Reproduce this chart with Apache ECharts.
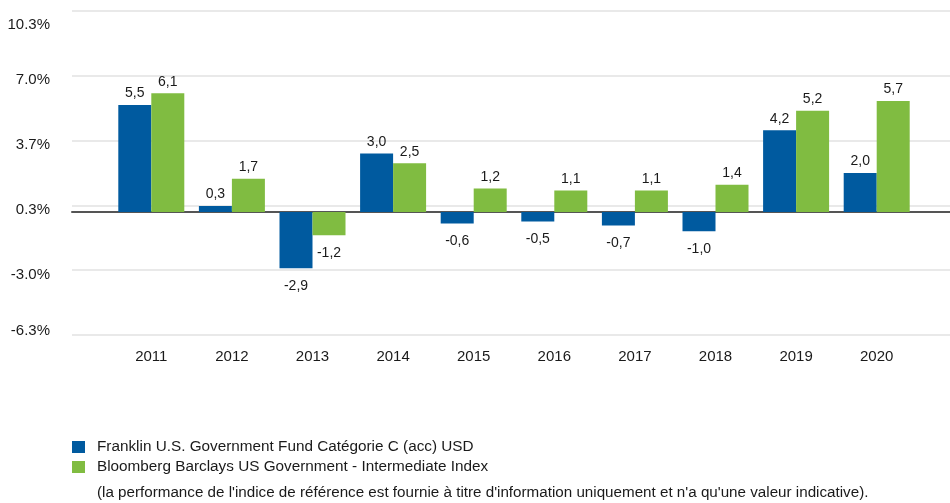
<!DOCTYPE html>
<html>
<head>
<meta charset="utf-8">
<script src="https://cdn.jsdelivr.net/npm/echarts@6/dist/echarts.min.js"></script>
<style>
html,body{margin:0;padding:0;background:#fff;}
#chart{width:950px;height:503px;}
</style>
</head>
<body>
<div id="chart"></div>
<script>
var years = ['2011','2012','2013','2014','2015','2016','2017','2018','2019','2020'];
var fundValues = [5.5, 0.3, -2.9, 3.0, -0.6, -0.5, -0.7, -1.0, 4.2, 2.0];
var indexValues = [6.1, 1.7, -1.2, 2.5, 1.2, 1.1, 1.1, 1.4, 5.2, 5.7];
var seriesNames = ['Franklin U.S. Government Fund Catégorie C (acc) USD',
                   'Bloomberg Barclays US Government - Intermediate Index'];
var noteText = "(la performance de l'indice de référence est fournie à titre d'information uniquement et n'a qu'une valeur indicative).";
var yMin = -19/3, yMax = 31/3, yStep = 10/3;

var FONT = '"Liberation Sans", Arial, sans-serif';
var TXT = '#1a1a1a';

function toData(arr){
  return arr.map(function(v){
    return {value: v, label: {position: v < 0 ? 'bottom' : 'top', distance: v < 0 ? 10.5 : 4.5}};
  });
}
function fmt(p){ return p.value.toFixed(1).replace('.', ','); }

var chart = echarts.init(document.getElementById('chart'), null, {renderer:'canvas'});
chart.setOption({
  animation: false,
  textStyle: {fontFamily: FONT},
  grid: [
    {left: 72, right: 0, top: 11, bottom: 168},
    {left: 111, right: 33, top: 11, bottom: 168}
  ],
  xAxis: [
    {gridIndex: 0, type: 'value', min: 0, max: 1,
     axisLine: {show: true, onZero: true, lineStyle: {color: '#555', width: 2}},
     axisTick: {show: false}, axisLabel: {show: false}, splitLine: {show: false}},
    {gridIndex: 1, type: 'category', data: years,
     axisLine: {show: false}, axisTick: {show: false},
     axisLabel: {color: TXT, fontSize: 15, margin: 14, fontFamily: FONT}}
  ],
  yAxis: [
    {gridIndex: 0, type: 'value', min: yMin, max: yMax, interval: yStep,
     axisLine: {show: false}, axisTick: {show: false},
     axisLabel: {color: TXT, fontSize: 15, margin: 22, fontFamily: FONT,
       formatter: function(v, i){
         var s = v.toFixed(1) + '%';
         if (i === 0) return '{b|' + s + '}';
         if (v > yMax - 0.01) return '{t|' + s + '}';
         return '{m|' + s + '}';
       },
       rich: {
         m: {fontSize: 15, fontFamily: FONT, color: TXT, padding: [9,0,0,0]},
         t: {fontSize: 15, fontFamily: FONT, color: TXT, padding: [28,0,0,0]},
         b: {fontSize: 15, fontFamily: FONT, color: TXT, padding: [0,0,8,0]}
       }},
     splitLine: {show: true, lineStyle: {color: '#e2e2e2', width: 1.5}}},
    {gridIndex: 1, type: 'value', min: yMin, max: yMax, interval: yStep, show: false,
     splitLine: {show: false}}
  ],
  legend: {
    orient: 'vertical', left: 67, top: 432,
    itemWidth: 13, itemHeight: 12, itemGap: 0,
    icon: 'rect',
    textStyle: {color: TXT, fontSize: 15.3, lineHeight: 20, fontFamily: FONT, padding: [0,0,0,7]},
    data: seriesNames
  },
  graphic: [{
    type: 'text', x: 97, y: 493,
    style: {text: noteText, fill: TXT, font: '15.2px "Liberation Sans", Arial, sans-serif',
            verticalAlign: 'middle', align: 'left'}
  }],
  series: [
    {name: seriesNames[0], type: 'bar', xAxisIndex: 1, yAxisIndex: 1,
     data: toData(fundValues), barWidth: 33, barGap: '0%',
     itemStyle: {color: '#005a9f'},
     label: {show: true, color: TXT, fontSize: 14, fontFamily: FONT, formatter: fmt}},
    {name: seriesNames[1], type: 'bar', xAxisIndex: 1, yAxisIndex: 1,
     data: toData(indexValues), barWidth: 33, barGap: '0%',
     itemStyle: {color: '#80bc41'},
     label: {show: true, color: TXT, fontSize: 14, fontFamily: FONT, formatter: fmt}}
  ]
});
</script>
</body>
</html>
